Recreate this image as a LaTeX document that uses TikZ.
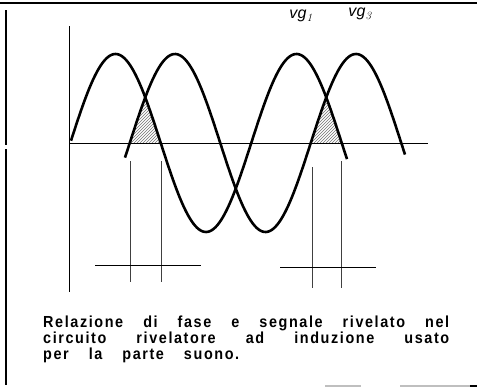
\documentclass[tikz,border=0pt]{standalone}
\usepackage{fontspec}
\newfontfamily\capfont{Liberation Sans Bold}[LetterSpace=10, FakeStretch=0.9]
\newfontfamily\lblfont{Liberation Sans}
\usetikzlibrary{patterns}
\tikzset{
  wave/.style={line width=2.6pt, line join=round},
  axis/.style={line width=0.9pt},
  marker/.style={line width=0.8pt, black!75},
  border/.style={line width=2.6pt},
  hatch/.style={pattern=north east lines, pattern color=black!55},
  caption/.style={anchor=base west, inner sep=0pt, font=\capfont\fontsize{16}{16}\selectfont},
  lbl/.style={inner sep=0pt, font=\lblfont\itshape\fontsize{16}{18}\selectfont}
}
\begin{document}
\begin{tikzpicture}[x=1pt,y=-1pt]
\useasboundingbox (0,0) rectangle (477,388);
\fill[white] (0,0) rectangle (477,388);
% border
\draw[border] (0,3) -- (477,3);
\draw[border] (6,10) -- (6,145);
\draw[border] (6,149) -- (6,385);
\draw[line width=1.2pt, black!25] (325,386) -- (361,386);
\draw[line width=1.2pt, black!25] (400,386) -- (470,386);
\draw[line width=1.5pt] (470,386) -- (477,386);
% hatched regions
\fill[hatch] plot[domain=129.75:145.25, samples=20] (\x,{143-89*cos(360/181*(\x-175))})
  -- plot[domain=145.25:160.75, samples=20] (\x,{143-89*cos(360/181*(\x-115.5))}) -- cycle;
\fill[hatch] plot[domain=310.75:326.25, samples=20] (\x,{143-89*cos(360/181*(\x-356))})
  -- plot[domain=326.25:341.75, samples=20] (\x,{143-89*cos(360/181*(\x-296.5))}) -- cycle;
% axes
\coordinate (o) at (69.5,143);
\coordinate (ytop) at (69.5,26);
\coordinate (ybot) at (69.5,292);
\coordinate (xend) at (428,143);
\draw[axis] (ytop) -- (ybot);
\draw[axis] (o) -- (xend);
% markers
\draw[marker] (130,161) -- (130,282);
\draw[marker] (161.5,161) -- (161.5,282);
\draw[marker] (312,167) -- (312,288);
\draw[marker] (341,161) -- (341,288);
\draw[axis] (95,265) -- (201,265);
\draw[axis] (280,267) -- (376,267);
% waves
\draw[wave] plot[domain=71:347, samples=150, smooth] (\x,{143-89*cos(360/181*(\x-115.5))});
\draw[wave] plot[domain=125:405, samples=150, smooth] (\x,{143-89*cos(360/181*(\x-175))});
% labels
\node[lbl] (vg1) at (301,16) {v\kern0.5pt g$_{\mathit{1}}$};
\node[lbl] (vg3) at (360,14) {v\kern0.5pt g$_{\mathit{3}}$};
% caption
\node[caption] (cap) at (43,327) {\parbox[t]{406pt}{%
  \makebox[406pt][s]{Relazione di fase e segnale rivelato nel}\\
  \makebox[406pt][s]{circuito rivelatore ad induzione usato}\\
  \makebox[196pt][s]{per la parte suono.}}};
\end{tikzpicture}
\end{document}
